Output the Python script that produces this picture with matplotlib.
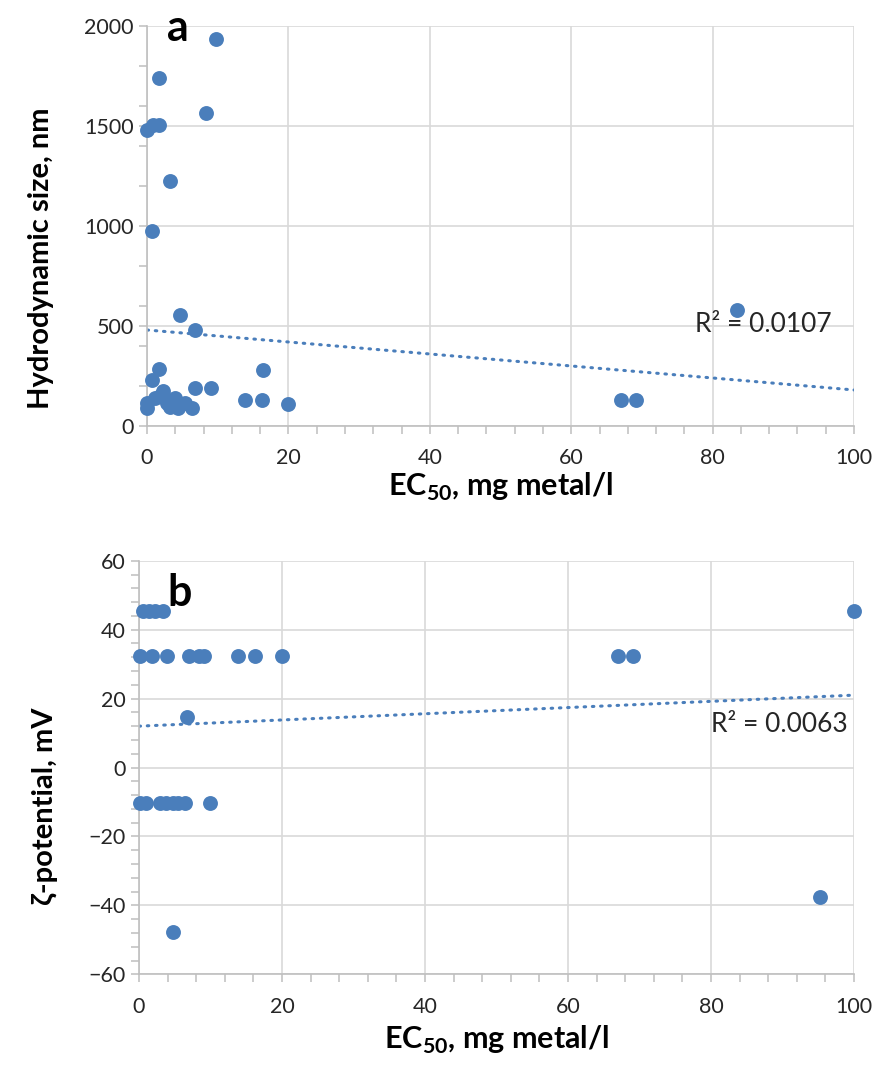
import numpy as np
import matplotlib.pyplot as plt

plt.rcParams['font.family'] = ['Lato', 'DejaVu Sans']
plt.rcParams['mathtext.fontset'] = 'custom'
plt.rcParams['mathtext.rm'] = 'Lato'
plt.rcParams['mathtext.bf'] = 'Lato:bold'

# panel a: EC50 vs hydrodynamic size
ec50_a = [9.8, 1.75, 8.4, 0.0, 0.8, 1.75, 3.3, 0.66, 4.6, 6.8,
          1.7, 16.4, 0.7, 6.8, 9.05, 13.8, 16.2, 20.0, 67.0, 69.2, 83.4,
          0.0, 0.0, 1.1, 1.8, 2.2, 2.8, 3.25, 4.0, 4.4, 5.4, 6.4]
size_a = [1935, 1740, 1564, 1480, 1504, 1504, 1224, 976, 557, 481,
          283, 280, 230, 188, 188, 129, 129, 108, 130, 130, 578,
          113, 88, 138, 150, 177, 113, 97, 138, 88, 113, 88]
trend_a = (480, -3.0)   # intercept, slope
r2_a = 'R² = 0.0107'

# panel b: EC50 vs zeta potential
ec50_b = [0.5, 1.4, 2.3, 3.4, 100.0,
          0.1, 1.85, 3.9, 7.0, 8.4, 9.1, 13.8, 16.2, 20.0, 67.0, 69.1,
          6.7,
          0.1, 1.0, 2.9, 3.8, 4.75, 5.45, 6.4, 9.9,
          4.8, 95.2]
zeta_b = [45.4, 45.4, 45.4, 45.4, 45.4,
          32.4, 32.4, 32.4, 32.4, 32.4, 32.4, 32.4, 32.4, 32.4, 32.4, 32.4,
          14.7,
          -10.4, -10.4, -10.4, -10.4, -10.4, -10.4, -10.4, -10.4,
          -47.6, -37.6]
trend_b = (12.0, 0.09)
r2_b = 'R² = 0.0063'

blue = '#4a7ebb'
grid_c = '#d9d9d9'
axis_c = '#bfbfbf'

fig = plt.figure(figsize=(8.81, 10.66), dpi=100)
ax1 = fig.add_axes([0.1669, 0.6004, 0.8025, 0.3752])
ax2 = fig.add_axes([0.1578, 0.0860, 0.8116, 0.3880])


def style(ax, ylim, ymaj, ymin):
    ax.set_xlim(0, 100)
    ax.set_ylim(*ylim)
    ax.set_xticks(np.arange(0, 101, 20))
    ax.set_xticks(np.arange(0, 101, 4), minor=True)
    ax.set_yticks(np.arange(ylim[0], ylim[1] + 1, ymaj))
    ax.set_yticks(np.arange(ylim[0], ylim[1] + 1, ymin), minor=True)
    ax.grid(True, which='major', color=grid_c, lw=1.2)
    ax.set_axisbelow(True)
    for s in ['top', 'right']:
        ax.spines[s].set_visible(False)
    for s in ['left', 'bottom']:
        ax.spines[s].set_color(axis_c)
        ax.spines[s].set_linewidth(1.2)
    ax.tick_params(which='both', direction='out', length=6, width=1.1,
                   color=axis_c, labelsize=15.5, labelcolor='#262626')
    ax.tick_params(axis='x', pad=10)


style(ax1, (0, 2000), 500, 200)
style(ax2, (-60, 60), 20, 4)

xs = np.array([0, 100])
ax1.plot(xs, trend_a[0] + trend_a[1] * xs, color=blue, lw=2.2,
         linestyle=(0, (0.5, 2.2)), dash_capstyle='round', zorder=2)
ax1.scatter(ec50_a, size_a, s=115, color=blue, zorder=3, clip_on=False, linewidths=0)
ax2.plot(xs, trend_b[0] + trend_b[1] * xs, color=blue, lw=2.2,
         linestyle=(0, (0.5, 2.2)), dash_capstyle='round', zorder=2)
ax2.scatter(ec50_b, zeta_b, s=115, color=blue, zorder=3, clip_on=False, linewidths=0)

ax1.text(0.775, 0.2525, r2_a, transform=ax1.transAxes, fontsize=19,
         va='center', ha='left', color='#262626')
ax2.text(0.80, 0.603, r2_b, transform=ax2.transAxes, fontsize=19,
         va='center', ha='left', color='#262626')

ax1.text(0.044, 0.995, 'a', transform=ax1.transAxes, fontsize=31,
         fontweight='bold', va='center', ha='center')
ax2.text(0.057, 0.922, 'b', transform=ax2.transAxes, fontsize=31,
         fontweight='bold', va='center', ha='center')

xl = r'EC$_\mathbf{50}$, mg metal/l'
ax1.set_xlabel(xl, fontsize=22, fontweight='bold', labelpad=2)
ax2.set_xlabel(xl, fontsize=22, fontweight='bold', labelpad=5)
ax1.set_ylabel('Hydrodynamic size, nm', fontsize=21, fontweight='bold')
ax2.set_ylabel('ζ-potential, mV', fontsize=21, fontweight='bold')
ax1.yaxis.set_label_coords(-0.1315, 0.42)
ax2.yaxis.set_label_coords(-0.113, 0.407)

fig.savefig('out.png', dpi=100)
